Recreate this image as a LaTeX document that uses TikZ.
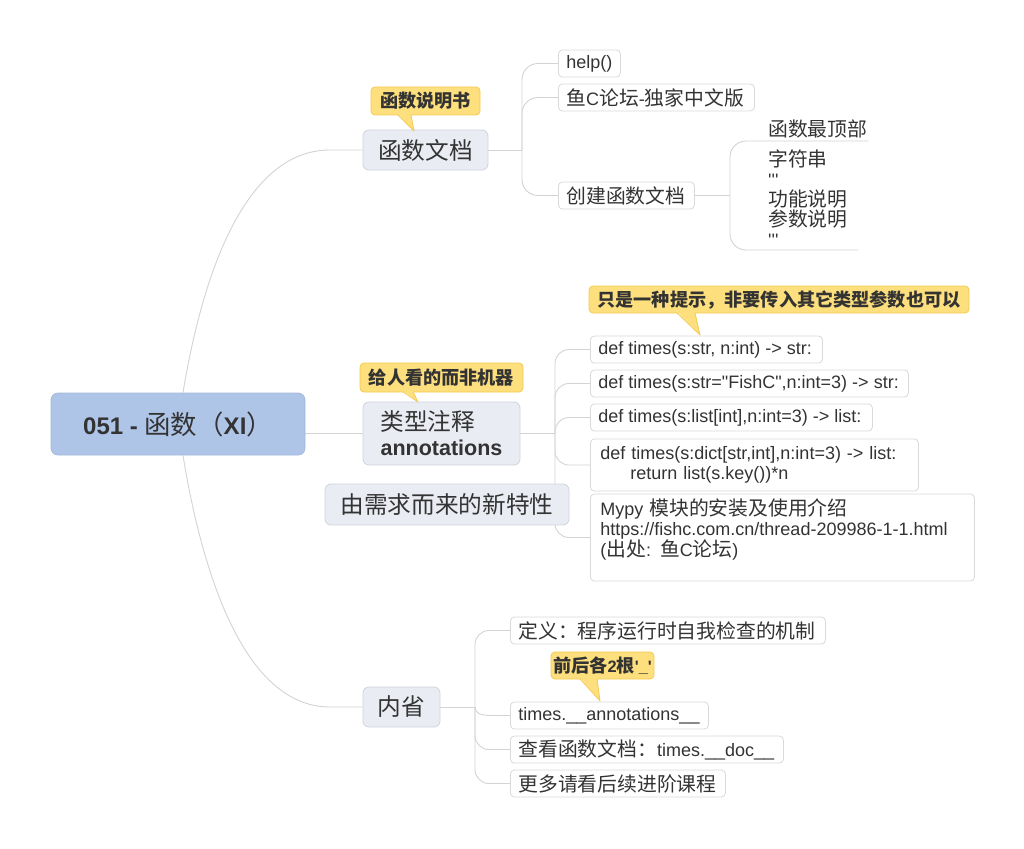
\documentclass[tikz,border=0pt]{standalone}
\usepackage{fontspec}
\usetikzlibrary{backgrounds}
\newfontfamily\lat{Liberation Sans}
\newfontfamily\cjk[Scale=1.1]{Noto Sans CJK SC}
\newcommand{\zh}[1]{{\cjk #1}}
\newcommand{\lbox}[2]{\makebox[#1][l]{#2}}
\definecolor{linec}{HTML}{D3D3D3}
\definecolor{rootfill}{HTML}{AFC5E8}
\definecolor{rootdraw}{HTML}{A3B8DA}
\definecolor{brfill}{HTML}{EAECF4}
\definecolor{brdraw}{HTML}{D0D3DC}
\definecolor{lfdraw}{HTML}{D9D9D9}
\definecolor{calfill}{HTML}{FEDF7D}
\definecolor{caldraw}{HTML}{F3CB52}
\definecolor{txt}{HTML}{333333}
\newcommand{\ptr}[5]{%
  \fill[calfill] (#1,#3-1.2) -- (#4,#5) -- (#2,#3-1.2) -- cycle;
  \draw[caldraw, line width=0.8pt, line join=round] (#1,#3) -- (#4,#5) -- (#2,#3);}
\begin{document}
\begin{tikzpicture}[x=1pt,y=-1pt,
  conn/.style={draw=linec, line width=0.9pt},
  rootbox/.style={fill=rootfill, draw=rootdraw, line width=0.8pt, rounded corners=7pt, minimum width=254pt, minimum height=62pt, inner sep=0pt, text=txt, font=\lat\fontsize{24}{26}\selectfont\bfseries},
  branch/.style={fill=brfill, draw=brdraw, line width=0.8pt, rounded corners=6pt, inner sep=0pt, text=txt, font=\lat\fontsize{21.5}{25}\selectfont},
  leaf/.style={fill=white, draw=lfdraw, line width=0.8pt, rounded corners=4pt, inner xsep=8pt, inner ysep=0pt, minimum height=27pt, anchor=west, text=txt, font=\lat\fontsize{18}{20}\selectfont},
  bare/.style={inner xsep=0pt, inner ysep=3pt, anchor=south west, align=left, text=txt, font=\lat\fontsize{18}{20}\selectfont},
  callout/.style={fill=calfill, draw=caldraw, line width=0.8pt, rounded corners=4pt, inner sep=0pt, text=txt, font=\cjk\bfseries\fontsize{16.5}{18}\selectfont},
]
\useasboundingbox (0,0) rectangle (1024,848);

% root and main branches
\node[rootbox] (root) at (178,424) {051 - \zh{\mdseries 函数（}XI\zh{\mdseries ）}};
\node[branch, minimum width=125pt, minimum height=40pt] (b1) at (425.5,150) {\zh{函数文档}};
\node[branch, minimum width=157pt, minimum height=63pt, align=left] (b2) at (441.5,433.5) {\zh{类型注释}\\\textbf{annotations}};
\node[branch, minimum width=77pt, minimum height=40pt] (b3) at (401.5,707) {\zh{内省}};

% branch 1 children
\node[leaf] (h1) at (558,63.5) {\lbox{46pt}{help()}};
\node[leaf] (h2) at (558,97.5) {\lbox{180pt}{\zh{鱼}C\zh{论坛}-\zh{独家中文版}}};
\node[leaf] (h3) at (558,195.5) {\lbox{120pt}{\zh{创建函数文档}}};
\node[bare, text width=100pt] (u1) at (768,141) {\zh{函数最顶部}};
\node[bare, text width=90pt] (u2) at (768,250) {\zh{字符串}\\'''\\\zh{功能说明}\\\zh{参数说明}\\'''};

% branch 2 children
\node[leaf] (d1) at (590,349.5) {\lbox{216pt}{def times(s:str, n:int) -> str:}};
\node[leaf] (d2) at (590,383.5) {\lbox{302pt}{def times(s:str="FishC",n:int=3) -> str:}};
\node[leaf] (d3) at (590,417.5) {\lbox{266pt}{def times(s:list[int],n:int=3) -> list:}};
\node[leaf, inner xsep=10pt, minimum height=52pt, text width=308pt, align=left] (d4) at (590,465) {def times(s:dict[str,int],n:int=3) -> list:\\\hspace*{30pt}return list(s.key())*n};
\node[leaf, inner xsep=10pt, minimum height=87pt, text width=364pt, align=left] (m1) at (590,537.5) {Mypy \zh{模块的安装及使用介绍}\\https://fishc.com.cn/thread-209986-1-1.html\\(\zh{出处}: \zh{鱼}C\zh{论坛})\\\mbox{}};

% floating topic
\node[branch, minimum width=244pt, minimum height=41pt] (f1) at (447,504.5) {\zh{由需求而来的新特性}};

% branch 3 children
\node[leaf] (i1) at (510,630.5) {\lbox{299pt}{\zh{定义：程序运行时自我检查的机制}}};
\node[leaf] (i2) at (510,715.5) {\lbox{182pt}{times.\_\_annotations\_\_}};
\node[leaf] (i3) at (510,749.5) {\lbox{257pt}{\zh{查看函数文档：}times.\_\_doc\_\_}};
\node[leaf] (i4) at (510,783.5) {\lbox{199pt}{\zh{更多请看后续进阶课程}}};

% callouts
\node[callout, minimum width=109pt, minimum height=28pt] (k1) at (425.5,101) {函数说明书};
\ptr{398}{411}{115}{414}{131}
\node[callout, minimum width=163pt, minimum height=29pt] (k2) at (441.5,377.5) {给人看的而非机器};
\ptr{403}{413}{392}{418}{402}
\node[callout, minimum width=380pt, minimum height=27pt] (k3) at (779,299.5) {只是一种提示，非要传入其它类型参数也可以};
\ptr{677}{695}{313}{700}{335}
\node[callout, minimum width=103pt, minimum height=27pt] (k4) at (602.5,665.5) {前后各{\lat 2}根{\lat '\_'}};
\ptr{580}{597}{679}{600}{701}

% connectors
\begin{scope}[on background layer]
  \draw[conn] ([xshift=5pt]root.north) .. controls (205,260) and (250,150) .. (330,150) -- (b1.west);
  \draw[conn] (root.east |- b2.west) -- (b2.west);
  \draw[conn] ([xshift=5pt]root.south) .. controls (205,590) and (250,707) .. (330,707) -- (b3.west);

  \coordinate (j1) at (522,150);
  \draw[conn] (b1.east) -- (j1);
  \draw[conn, rounded corners=16pt] (j1) |- (h1.west);
  \draw[conn, rounded corners=16pt] (j1) |- (h2.west);
  \draw[conn, rounded corners=16pt] (j1) |- (h3.west);

  \coordinate (j4) at (730,195.5);
  \draw[conn] (h3.east) -- (j4);
  \draw[conn, rounded corners=16pt] (j4) |- (u1.south east);
  \draw[conn, rounded corners=16pt] (j4) |- (u2.south east);

  \coordinate (j2) at (555,433.5);
  \draw[conn] (b2.east) -- (j2);
  \draw[conn, rounded corners=14pt] (j2) |- (d1.west);
  \draw[conn, rounded corners=14pt] (j2) |- (d2.west);
  \draw[conn, rounded corners=14pt] (j2) |- (d3.west);
  \draw[conn, rounded corners=14pt] (j2) |- (d4.west);
  \draw[conn, rounded corners=14pt] (j2) |- (m1.west);

  \coordinate (j3) at (475,707);
  \draw[conn] (b3.east) -- (j3);
  \draw[conn, rounded corners=14pt] (j3) |- (i1.west);
  \draw[conn] (j3) .. controls (475,713) and (480,715.5) .. (492,715.5) -- (i2.west);
  \draw[conn, rounded corners=14pt] (j3) |- (i3.west);
  \draw[conn, rounded corners=14pt] (j3) |- (i4.west);
\end{scope}
\end{tikzpicture}
\end{document}
